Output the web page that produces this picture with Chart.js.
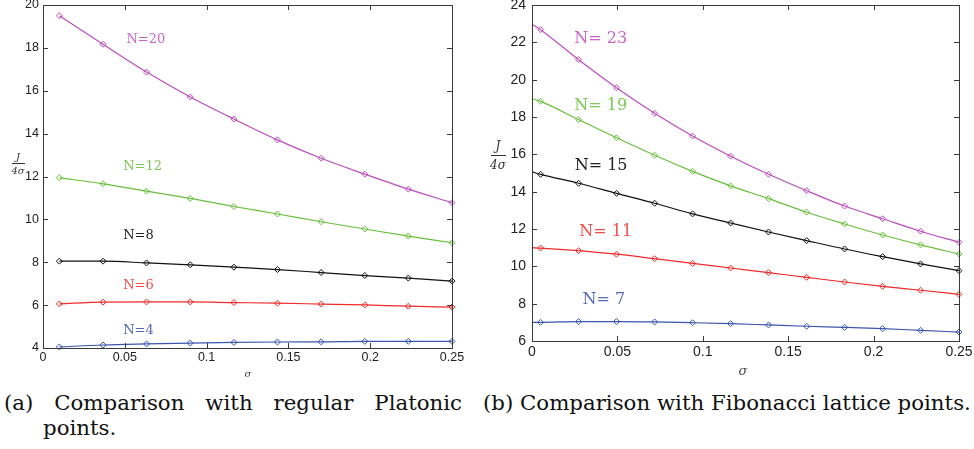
<!DOCTYPE html>
<html>
<head>
<meta charset="utf-8">
<script src="https://cdn.jsdelivr.net/npm/chart.js@4/dist/chart.umd.min.js"></script>
<style>
  body { margin: 0; background: #fff; width: 974px; height: 449px; overflow: hidden; position: relative; }
  canvas { position: absolute; top: 0; }
  #chartA { left: 0; }
  #chartB { left: 480px; }
  .cap { position: absolute; top: 390px; font-family: "DejaVu Serif", serif; font-size: 21.3px; line-height: 25px; color: #111; }
  #capA { left: 4px; width: 419px; padding-left: 39px; text-indent: -39px; text-align: justify; }
  #capB { left: 483px; white-space: nowrap; }
</style>
</head>
<body>
<canvas id="chartA" width="480" height="385"></canvas>
<canvas id="chartB" width="494" height="385"></canvas>
<div class="cap" id="capA">(a) Comparison with regular Platonic points.</div>
<div class="cap" id="capB">(b) Comparison with Fibonacci lattice points.</div>
<script>
// (a) regular Platonic points
const sigmaA = [0.01, 0.0367, 0.0633, 0.09, 0.1167, 0.1433, 0.17, 0.1967, 0.2233, 0.25];
const platN20 = [19.50, 18.17, 16.87, 15.71, 14.68, 13.71, 12.85, 12.11, 11.41, 10.78];
const platN12 = [11.94, 11.66, 11.32, 10.98, 10.60, 10.25, 9.89, 9.55, 9.22, 8.91];
const platN8 = [8.05, 8.05, 7.97, 7.88, 7.77, 7.66, 7.52, 7.38, 7.26, 7.12];
const platN6 = [6.06, 6.14, 6.15, 6.15, 6.12, 6.09, 6.05, 6.01, 5.95, 5.91];
const platN4 = [4.05, 4.14, 4.19, 4.23, 4.26, 4.28, 4.29, 4.31, 4.31, 4.31];

// (b) Fibonacci lattice points (first value is where the curve starts, no marker)
const sigmaB = [0, 0.005, 0.0273, 0.0495, 0.0718, 0.094, 0.1163, 0.1385, 0.1608, 0.183, 0.2053, 0.2275, 0.25];
const fibN23 = [22.97, 22.68, 21.07, 19.57, 18.20, 16.98, 15.90, 14.93, 14.05, 13.23, 12.55, 11.88, 11.29];
const fibN19 = [18.98, 18.84, 17.86, 16.89, 15.95, 15.09, 14.31, 13.63, 12.90, 12.27, 11.68, 11.15, 10.66];
const fibN15 = [15.06, 14.93, 14.45, 13.91, 13.38, 12.81, 12.32, 11.84, 11.38, 10.93, 10.52, 10.13, 9.77];
const fibN11 = [11.00, 10.98, 10.84, 10.65, 10.41, 10.16, 9.91, 9.66, 9.41, 9.16, 8.93, 8.72, 8.50];
const fibN7 = [7.00, 7.00, 7.04, 7.04, 7.02, 6.98, 6.93, 6.86, 6.79, 6.73, 6.66, 6.57, 6.48];

const labelsA = ['N=20', 'N=12', 'N=8', 'N=6', 'N=4'];
const labelsB = ['N= 23', 'N= 19', 'N= 15', 'N= 11', 'N= 7'];
const xTicks = [0, 0.05, 0.1, 0.15, 0.2, 0.25];

// colours: magenta, green, black, red, blue
const LINE_COLORS = ['#bd4cbd', '#69bf3c', '#111111', '#ee2a2a', '#3a55ad'];
const TEXT_COLORS = ['#c866c8', '#7bc952', '#222222', '#f04c4c', '#5469b8'];
const AXIS_COLOR = '#3a3a3a';

function toPoints(xs, ys) {
  return xs.map((x, i) => ({ x: x, y: ys[i] }));
}

function makeDatasets(xs, series, skipFirst) {
  return series.map((ys, k) => ({
    data: toPoints(xs, ys),
    borderColor: LINE_COLORS[k],
    backgroundColor: 'rgba(255,255,255,0)',
    borderWidth: 1.2,
    pointStyle: 'rectRot',
    pointRadius: xs.map((x, i) => (skipFirst && i === 0 ? 0 : 3)),
    pointBorderWidth: 1,
    cubicInterpolationMode: 'monotone',
    clip: false
  }));
}

// frame with inward ticks, plus curve labels and axis labels
function framePlugin(cfg) {
  return {
    id: 'boxAndText',
    afterDraw(chart) {
      const { ctx, chartArea: a, scales } = chart;
      ctx.save();
      ctx.fillStyle = AXIS_COLOR;
      const l = Math.round(a.left), r = Math.round(a.right);
      const t = Math.round(a.top), b = Math.round(a.bottom);
      // box
      ctx.fillRect(l, t, r - l + 1, 1);
      ctx.fillRect(l, b, r - l + 1, 1);
      ctx.fillRect(l, t, 1, b - t + 1);
      ctx.fillRect(r, t, 1, b - t + 1);
      // inward ticks
      scales.x.ticks.forEach(tk => {
        const px = Math.round(scales.x.getPixelForValue(tk.value));
        ctx.fillRect(px, b - 5, 1, 5);
        ctx.fillRect(px, t, 1, 5);
      });
      scales.y.ticks.forEach(tk => {
        const py = Math.round(scales.y.getPixelForValue(tk.value));
        ctx.fillRect(l, py, 5, 1);
        ctx.fillRect(r - 5, py, 5, 1);
      });

      ctx.textBaseline = 'middle';
      ctx.textAlign = 'left';
      ctx.font = cfg.labelFont;
      cfg.labels.forEach((txt, k) => {
        ctx.fillStyle = TEXT_COLORS[k];
        ctx.fillText(txt, scales.x.getPixelForValue(cfg.labelX[k]), scales.y.getPixelForValue(cfg.labelY[k]));
      });
      // sigma under the x axis
      ctx.fillStyle = '#444';
      ctx.textAlign = 'center';
      ctx.font = cfg.sigmaFont;
      ctx.fillText('σ', cfg.sigmaPos[0], cfg.sigmaPos[1]);
      // J / 4σ fraction
      const f = cfg.frac;
      ctx.font = f.font;
      ctx.fillStyle = '#333';
      ctx.fillText('J', f.cx, f.jy);
      ctx.fillText('4σ', f.cx, f.dy);
      ctx.fillRect(f.x0, f.by, f.x1 - f.x0, 1);
      ctx.restore();
    }
  };
}

function makeChart(id, o) {
  const tickFont = { family: '"Liberation Sans", Arial, sans-serif', size: o.tickSize, lineHeight: 1 };
  return new Chart(document.getElementById(id), {
    type: 'line',
    data: { datasets: makeDatasets(o.xs, o.series, o.skipFirst) },
    options: {
      responsive: false,
      animation: false,
      layout: { padding: o.padding },
      plugins: { legend: { display: false }, tooltip: { enabled: false } },
      scales: {
        x: {
          type: 'linear', min: 0, max: 0.25,
          afterBuildTicks: s => { s.ticks = xTicks.map(v => ({ value: v })); },
          ticks: { font: tickFont, color: '#222', padding: o.xPad, maxRotation: 0, autoSkip: false,
                   callback: v => String(v) },
          grid: { display: false, drawTicks: false }, border: { display: false },
          afterFit: s => { s.height = o.xHeight; s.paddingLeft = 0; s.paddingRight = 0; }
        },
        y: {
          min: o.yTicks[0], max: o.yTicks[o.yTicks.length - 1],
          afterBuildTicks: s => { s.ticks = o.yTicks.map(v => ({ value: v })); },
          ticks: { font: tickFont, color: '#222', padding: o.yPad },
          grid: { display: false, drawTicks: false }, border: { display: false },
          afterFit: s => { s.width = o.yWidth; s.paddingTop = 0; s.paddingBottom = 0; }
        }
      }
    },
    plugins: [framePlugin(o.deco)]
  });
}

makeChart('chartA', {
  xs: sigmaA,
  series: [platN20, platN12, platN8, platN6, platN4],
  skipFirst: false,
  yTicks: [4, 6, 8, 10, 12, 14, 16, 18, 20],
  tickSize: 12.5,
  padding: { left: 0, top: 5, right: 28, bottom: 0 },
  yWidth: 43, xHeight: 37, xPad: 3, yPad: 4,
  deco: {
    labels: labelsA,
    labelX: [0.051, 0.049, 0.049, 0.049, 0.049],
    labelY: [18.37, 12.48, 9.22, 6.90, 4.82],
    labelFont: '13px "DejaVu Serif", serif',
    sigmaFont: 'italic 10px "DejaVu Serif", serif',
    sigmaPos: [248, 374],
    frac: { font: 'italic 10px "DejaVu Serif", serif', cx: 18, jy: 157, dy: 171, x0: 12, x1: 25, by: 163 }
  }
});

makeChart('chartB', {
  xs: sigmaB,
  series: [fibN23, fibN19, fibN15, fibN11, fibN7],
  skipFirst: true,
  yTicks: [6, 8, 10, 12, 14, 16, 18, 20, 22, 24],
  tickSize: 14,
  padding: { left: 0, top: 5, right: 15, bottom: 0 },
  yWidth: 52, xHeight: 44, xPad: 4, yPad: 6,
  deco: {
    labels: labelsB,
    labelX: [0.0248, 0.0248, 0.025, 0.0277, 0.0296],
    labelY: [22.18, 18.61, 15.39, 11.86, 8.20],
    labelFont: '16px "DejaVu Serif", serif',
    sigmaFont: 'italic 13px "DejaVu Serif", serif',
    sigmaPos: [263, 372],
    frac: { font: 'italic 12px "DejaVu Serif", serif', cx: 18, jy: 147, dy: 166, x0: 11, x1: 26, by: 155 }
  }
});
</script>
</body>
</html>
